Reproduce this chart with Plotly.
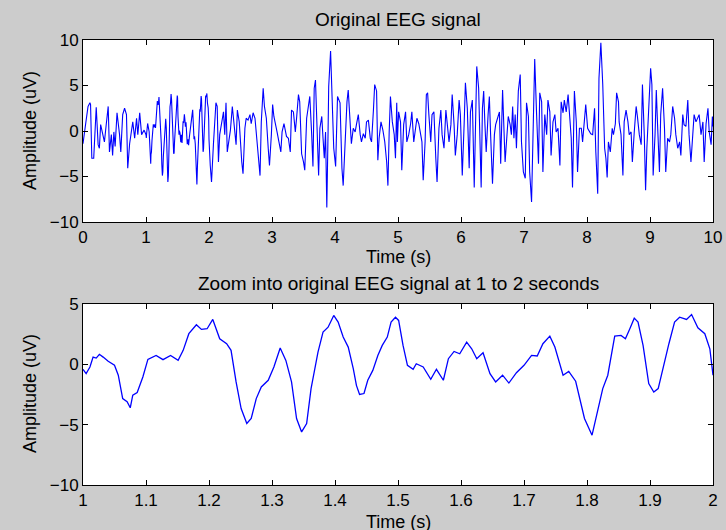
import plotly.graph_objects as go

# ---- Zoomed segment (1 to 2 s) ----
zoom_t = [1.000, 1.005, 1.011, 1.016, 1.021, 1.026, 1.032, 1.040, 1.050, 1.056,
          1.063, 1.070, 1.075, 1.079, 1.086, 1.095, 1.103, 1.116, 1.127, 1.139,
          1.151, 1.159, 1.168, 1.180, 1.188, 1.197, 1.206, 1.217, 1.228, 1.235,
          1.243, 1.251, 1.260, 1.267, 1.275, 1.283, 1.294, 1.303, 1.313, 1.322,
          1.331, 1.339, 1.347, 1.355, 1.362, 1.373, 1.381, 1.389, 1.398, 1.405,
          1.413, 1.421, 1.429, 1.434, 1.439, 1.446, 1.452, 1.460, 1.468, 1.475,
          1.483, 1.489, 1.496, 1.501, 1.508, 1.515, 1.524, 1.529, 1.540, 1.552,
          1.561, 1.572, 1.580, 1.589, 1.598, 1.609, 1.617, 1.625, 1.635, 1.646,
          1.655, 1.666, 1.676, 1.688, 1.700, 1.712, 1.721, 1.730, 1.741, 1.749,
          1.762, 1.771, 1.782, 1.796, 1.808, 1.817, 1.825, 1.833, 1.844, 1.854,
          1.861, 1.868, 1.875, 1.881, 1.889, 1.898, 1.906, 1.913, 1.921, 1.930,
          1.939, 1.947, 1.958, 1.966, 1.976, 1.987, 1.995, 2.000]
zoom_v = [-0.41, -0.77, -0.22, 0.60, 0.52, 0.83, 0.60, 0.25, -0.08, -0.90,
          -2.84, -3.10, -3.60, -2.56, -2.34, -1.05, 0.41, 0.74, 0.39, 0.74,
          0.33, 1.16, 2.54, 3.28, 2.90, 2.95, 3.72, 2.12, 1.71, 1.16,
          -1.46, -3.66, -4.90, -4.49, -2.84, -1.87, -1.32, -0.22, 1.35, 0.33,
          -1.46, -4.49, -5.60, -4.90, -2.01, 1.02, 2.67, 3.08, 4.05, 3.50,
          2.26, 1.43, -0.36, -1.74, -2.50, -2.42, -1.32, -0.50, 0.74, 1.57,
          2.26, 3.50, 3.90, 3.64, 1.57, -0.08, -0.41, 0.05, -0.22, -1.24,
          -0.41, -1.32, 0.47, 1.07, 0.88, 1.84, 1.29, 0.47, 0.96, -0.77,
          -1.46, -0.90, -1.55, -0.69, -0.08, 0.74, 0.69, 1.71, 2.34, 1.43,
          -0.90, -0.58, -1.40, -4.49, -5.87, -3.80, -2.01, -0.90, 2.34, 2.40,
          2.12, 2.95, 3.83, 3.50, 1.57, -1.60, -2.29, -2.01, -0.22, 1.71,
          3.50, 3.91, 3.72, 4.13, 3.03, 2.54, 1.29, -0.90]

# ---- Full signal: 0 to 1 s ----
head_t = [0.00, 0.03, 0.05, 0.08, 0.11, 0.12, 0.14, 0.17, 0.19, 0.21,
          0.24, 0.26, 0.28, 0.32, 0.34, 0.37, 0.40, 0.42, 0.45, 0.47,
          0.49, 0.51, 0.54, 0.58, 0.60, 0.63, 0.66, 0.69, 0.71, 0.74,
          0.77, 0.79, 0.82, 0.85, 0.87, 0.90, 0.93, 0.97]
head_v = [-1.4, -0.1, 1.2, 2.7, 3.1, 2.9, -3.0, -3.0, -0.1, 2.6,
          -1.5, -1.9, 0.7, -0.4, -1.2, 0.8, 2.7, -2.3, -0.4, -2.7,
          -0.1, -1.7, 2.0, -0.4, -2.3, 1.8, 2.5, 1.8, -4.1, -1.4,
          -0.1, 1.0, -0.8, 1.4, -0.4, 2.0, -0.4, 0.1]

# ---- Full signal: 2 to 10 s ----
tail_t = [2.02, 2.04, 2.07, 2.11, 2.13, 2.15, 2.17, 2.20, 2.23, 2.25,
          2.27, 2.29, 2.32, 2.34, 2.37, 2.39, 2.43, 2.45, 2.48, 2.52,
          2.54, 2.57, 2.59, 2.62, 2.65, 2.67, 2.70, 2.73, 2.75, 2.78,
          2.81, 2.83, 2.86, 2.88, 2.91, 2.94, 2.96, 2.99, 3.01, 3.03,
          3.06, 3.08, 3.11, 3.14, 3.16, 3.19, 3.23, 3.26, 3.29, 3.31,
          3.34, 3.37, 3.39, 3.42, 3.44, 3.47, 3.50, 3.52, 3.55, 3.58,
          3.60, 3.63, 3.65, 3.67, 3.69, 3.71, 3.74, 3.76, 3.79, 3.81,
          3.83, 3.85, 3.87, 3.89, 3.90, 3.93, 3.96, 3.98, 4.01, 4.04,
          4.08, 4.11, 4.13, 4.16, 4.19, 4.21, 4.24, 4.26, 4.29, 4.32,
          4.34, 4.37, 4.40, 4.42, 4.45, 4.48, 4.50, 4.53, 4.56, 4.58,
          4.61, 4.63, 4.66, 4.68, 4.70, 4.73, 4.76, 4.79, 4.82, 4.84,
          4.86, 4.88, 4.91, 4.94, 4.96, 4.98, 4.99, 5.01, 5.04, 5.06,
          5.09, 5.12, 5.14, 5.17, 5.20, 5.22, 5.25, 5.28, 5.30, 5.33,
          5.36, 5.38, 5.40, 5.43, 5.45, 5.47, 5.49, 5.52, 5.54, 5.57,
          5.60, 5.62, 5.65, 5.68, 5.70, 5.73, 5.76, 5.78, 5.81, 5.84,
          5.86, 5.89, 5.91, 5.94, 5.97, 5.99, 6.02, 6.05, 6.07, 6.10,
          6.13, 6.15, 6.18, 6.21, 6.23, 6.25, 6.28, 6.30, 6.32, 6.34,
          6.36, 6.38, 6.40, 6.43, 6.45, 6.47, 6.50, 6.53, 6.55, 6.58,
          6.61, 6.63, 6.66, 6.70, 6.73, 6.75, 6.78, 6.80, 6.82, 6.84,
          6.86, 6.88, 6.91, 6.94, 6.96, 6.99, 7.02, 7.04, 7.07, 7.09,
          7.12, 7.15, 7.17, 7.20, 7.23, 7.25, 7.28, 7.30, 7.33, 7.36,
          7.38, 7.41, 7.43, 7.46, 7.49, 7.51, 7.54, 7.57, 7.59, 7.62,
          7.64, 7.67, 7.70, 7.72, 7.75, 7.77, 7.80, 7.83, 7.85, 7.88,
          7.91, 7.93, 7.96, 7.98, 8.01, 8.04, 8.06, 8.09, 8.12, 8.14,
          8.17, 8.19, 8.22, 8.25, 8.27, 8.28, 8.30, 8.32, 8.34, 8.37,
          8.40, 8.42, 8.45, 8.47, 8.50, 8.51, 8.54, 8.57, 8.59, 8.62,
          8.65, 8.67, 8.70, 8.72, 8.75, 8.78, 8.80, 8.83, 8.86, 8.88,
          8.91, 8.93, 8.95, 8.98, 9.01, 9.03, 9.05, 9.08, 9.10, 9.12,
          9.15, 9.17, 9.20, 9.23, 9.25, 9.28, 9.31, 9.33, 9.36, 9.39,
          9.41, 9.44, 9.47, 9.49, 9.52, 9.54, 9.57, 9.60, 9.62, 9.65,
          9.68, 9.70, 9.73, 9.75, 9.78, 9.81, 9.84, 9.86, 9.89, 9.92,
          9.94, 9.97, 9.99, 10.00]
tail_v = [-3.8, -5.6, -1.5, 3.1, 2.7, -3.4, -0.4, 0.8, 2.1, -0.4,
          3.1, -2.3, -0.8, 0.1, 2.7, 1.0, -1.5, 2.3, 1.0, -3.4,
          -4.7, 0.3, 1.4, 1.2, 1.8, 0.8, 2.0, 1.4, -0.1, -2.7,
          -4.9, 1.0, 4.7, 2.7, 1.4, -1.9, -3.8, -0.4, 2.9, 1.6,
          0.7, -0.1, -1.2, -2.3, -0.1, 0.8, -0.6, -0.8, -2.3, 2.3,
          2.1, -0.1, 1.4, 4.0, 3.2, -2.5, -3.4, -4.3, 1.4, 3.1,
          3.8, -0.4, -3.9, 4.7, 5.6, 1.4, -4.9, 0.3, 1.6, -0.8,
          -3.0, -0.1, -8.4, -0.1, 4.9, 8.8, 3.6, -1.9, -3.9, 3.8,
          3.1, -4.1, -6.0, -1.2, 3.2, 4.5, 0.3, -1.4, 0.3, -0.1,
          0.7, 1.8, -0.4, -1.2, -0.3, -0.8, 1.0, 1.2, -0.8, -1.2,
          2.3, 5.1, 4.4, -3.2, -0.8, 1.0, 0.1, -1.2, -3.4, -6.0,
          -0.1, 3.8, 1.0, -0.4, -3.0, 3.1, -1.2, 2.1, 1.0, -4.3,
          0.7, 2.1, -1.2, -0.4, 0.8, 2.1, -1.2, 0.7, 1.4, 0.8,
          -0.4, -1.2, -5.4, -1.2, 4.0, 4.2, 1.8, -1.2, 1.8, 2.1,
          -3.0, -5.6, 0.3, 2.3, -0.4, -1.9, 2.3, 0.7, -1.2, 0.7,
          4.0, 0.7, -2.7, -0.4, 3.4, 1.8, -4.9, 0.8, 5.3, 2.5,
          -4.1, 2.1, 3.4, -6.2, 1.8, 7.1, 4.7, -1.5, -6.2, 2.5,
          4.4, 0.7, -2.3, 1.8, 3.8, -0.4, -5.8, -0.4, 0.7, 1.4,
          2.1, -3.6, 4.5, -3.4, -0.4, 1.6, 0.7, -0.4, 2.7, -0.8,
          1.8, -1.9, 4.4, 6.2, -1.2, -4.5, -5.2, 3.1, 1.6, -4.5,
          -7.8, 3.6, 7.9, 1.8, -3.6, 4.2, 3.2, -4.5, 1.8, -0.4,
          3.4, 2.1, -2.7, 1.0, 1.8, -0.1, 0.3, -3.8, 3.2, 2.0,
          3.4, 2.1, 4.0, 2.1, -0.8, -6.2, 4.4, 1.0, -4.5, 0.3,
          0.3, -1.2, 1.8, 2.9, 0.3, -0.1, -0.3, -0.4, 2.5, -2.3,
          -6.9, 5.8, 9.7, 5.1, -0.1, -1.9, -3.0, -5.1, -1.2, -2.3,
          0.3, -0.4, 0.8, 4.2, 3.2, 1.0, -0.4, -4.9, 1.0, 2.3,
          1.0, -0.4, -0.1, -3.4, -0.1, 2.7, 1.6, -0.4, -1.5, 5.1,
          -0.6, -6.5, -1.9, 3.2, 6.9, 5.1, -4.9, -0.4, 4.5, 0.7,
          -4.5, 1.8, 4.7, 0.3, -4.5, -0.8, -1.2, -0.4, 2.7, 1.4,
          -0.4, -1.9, -1.2, -2.7, 1.8, 0.7, 0.5, 3.4, -0.4, -3.4,
          -0.1, 1.8, 1.0, 1.4, 1.8, -0.4, 1.0, -3.4, 0.8, 2.5,
          -0.1, -1.5, 1.6, 0.5]

assert len(zoom_t) == len(zoom_v)
assert len(head_t) == len(head_v)
assert len(tail_t) == len(tail_v)

full_t = head_t + zoom_t + tail_t
full_v = head_v + zoom_v + tail_v

FONT = "Liberation Sans, Arial, sans-serif"
BLUE = "#0000ff"

fig = go.Figure()
fig.add_trace(go.Scatter(x=full_t, y=full_v, mode="lines",
                         line=dict(color=BLUE, width=1.1),
                         xaxis="x", yaxis="y", showlegend=False))
fig.add_trace(go.Scatter(x=zoom_t, y=zoom_v, mode="lines",
                         line=dict(color=BLUE, width=1.3),
                         xaxis="x2", yaxis="y2", showlegend=False))

axis_common = dict(showline=True, linecolor="black", linewidth=1, mirror="ticks",
                   ticks="inside", ticklen=5, tickcolor="black", tickwidth=1,
                   showgrid=False, zeroline=False, automargin=False,
                   tickfont=dict(family=FONT, size=17, color="black"))

fig.update_layout(
    width=726, height=530, autosize=False,
    paper_bgcolor="#cccccc", plot_bgcolor="white",
    margin=dict(l=83, r=13, t=40, b=45, pad=0),
    font=dict(family=FONT, size=17, color="black"),
    xaxis=dict(domain=[0, 1], range=[0, 10], tickmode="linear", tick0=0, dtick=1,
               anchor="y", **axis_common),
    yaxis=dict(domain=[0.591, 1.0], range=[-10, 10], tickmode="linear", tick0=-10, dtick=5,
               anchor="x", **axis_common),
    xaxis2=dict(domain=[0, 1], range=[1, 2], tickmode="linear", tick0=1, dtick=0.1,
                anchor="y2", **axis_common),
    yaxis2=dict(domain=[0, 0.4067], range=[-10, 5], tickmode="linear", tick0=-10, dtick=5,
                anchor="x2", **axis_common),
)

ann = dict(xref="paper", yref="paper", showarrow=False,
           font=dict(family=FONT, size=18, color="black"))
title_font = dict(family=FONT, size=19, color="black")
fig.add_annotation(text="Original EEG signal", x=0.5, y=1.045, xanchor="center", yanchor="middle",
                   xref="paper", yref="paper", showarrow=False, font=title_font)
fig.add_annotation(text="Zoom into original EEG signal at 1 to 2 seconds", x=0.5, y=0.4517,
                   xanchor="center", yanchor="middle",
                   xref="paper", yref="paper", showarrow=False, font=title_font)
fig.add_annotation(text="Time (s)", x=0.5, y=0.5124, xanchor="center", yanchor="middle", **ann)
fig.add_annotation(text="Time (s)", x=0.5, y=-0.0831, xanchor="center", yanchor="middle", **ann)
fig.add_annotation(text="Amplitude (uV)", x=-0.0841, y=0.7955, textangle=-90,
                   xanchor="center", yanchor="middle", **ann)
fig.add_annotation(text="Amplitude (uV)", x=-0.0841, y=0.2045, textangle=-90,
                   xanchor="center", yanchor="middle", **ann)

fig.write_html("out.html")
